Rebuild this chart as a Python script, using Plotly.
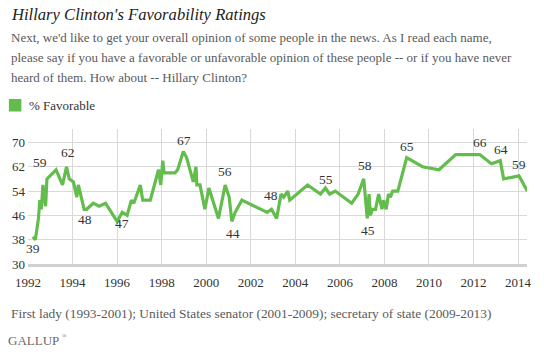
import plotly.graph_objects as go

# ---- data ----
dates = [1992.22, 1992.33, 1992.47, 1992.53, 1992.60, 1992.67, 1992.79, 1992.85,
         1993.26, 1993.55, 1993.73, 1993.85, 1994.04, 1994.19, 1994.26, 1994.52,
         1994.63, 1994.93, 1995.19, 1995.48, 1996.00, 1996.23, 1996.45, 1996.64,
         1996.75, 1997.04, 1997.15, 1997.49, 1997.86, 1997.96, 1998.05, 1998.11,
         1998.60, 1998.72, 1998.97, 1999.12, 1999.42, 1999.54, 1999.58, 1999.72,
         1999.94, 2000.12, 2000.55, 2000.85, 2001.03, 2001.15, 2001.30, 2001.60,
         2002.74, 2002.93, 2003.16, 2003.36, 2003.48, 2003.66, 2003.75, 2004.55,
         2005.13, 2005.35, 2005.54, 2005.79, 2006.53, 2006.82, 2007.07, 2007.23,
         2007.31, 2007.37, 2007.46, 2007.60, 2007.74, 2007.89, 2007.96, 2008.08,
         2008.18, 2008.27, 2008.37, 2008.60, 2009.00, 2009.71, 2010.45, 2011.20,
         2012.28, 2012.80, 2013.20, 2013.35, 2014.04, 2014.41]
favorable = [39, 38, 45, 51, 48, 56, 49, 58,
             61, 56, 62, 58, 57, 52, 56, 48,
             48, 50, 49, 50, 44, 47, 46, 51,
             50, 56, 51, 51, 61, 56, 64, 60,
             60, 61, 67, 65, 57, 62, 56, 56,
             48, 55, 45, 56, 52, 44, 47, 51,
             47, 48, 45, 53, 52, 54, 51, 56,
             53, 55, 53, 54, 50, 53, 58, 45,
             53, 46, 48, 48, 53, 48, 51, 48,
             53, 52, 54, 54, 65, 62, 61, 66,
             66, 63, 64, 58, 59, 54]
assert len(dates) == len(favorable)

label_index = [1, 7, 10, 15, 20, 34, 43, 45, 49, 57, 62, 63, 76, 80, 82, 84, 85]
label_text = ["39", "59", "62", "48", "47", "67", "56", "44", "48", "55",
              "58", "45", "65", "66", "64", "59", "54"]

x_ticks = list(range(1992, 2015, 2))
y_ticks = [30, 38, 46, 54, 62, 70]

title = "Hillary Clinton's Favorability Ratings"
subtitle_lines = [
    "Next, we'd like to get your overall opinion of some people in the news. As I read each name,",
    "please say if you have a favorable or unfavorable opinion of these people -- or if you have never",
    "heard of them. How about -- Hillary Clinton?",
]
series_name = "% Favorable"
footnote = "First lady (1993-2001); United States senator (2001-2009); secretary of state (2009-2013)"
brand = "GALLUP"

# ---- styling ----
GREEN = "#62BD4D"
FONT = "Liberation Serif, DejaVu Serif, serif"
W, H = 544, 359
L, R, T, B = 28, 12, 129, 95
PW, PH = W - L - R, H - T - B

def px_x(px):
    return (px - L) / PW

def px_y(py):
    return (H - B - py) / PH

fig = go.Figure()
fig.add_trace(go.Scatter(x=dates, y=favorable, mode="lines",
                         line=dict(color=GREEN, width=3.2),
                         name=series_name, showlegend=False, hoverinfo="x+y"))

# shifts for labels (pixels)
shifts = [(-2, -9), (-7, 16), (1, 14), (1, -10), (5, -2), (1, 11), (0, 13.5),
          (1, -12), (0, 13.5), (1, 9), (1, 13), (1, -12.5), (0, 11), (0, 12.5),
          (1, 11), (0, 11.5), (-1, -12.5)]
ann = []
for i, t, (dx, dy) in zip(label_index, label_text, shifts):
    ann.append(dict(x=dates[i], y=favorable[i], xref="x", yref="y", text=t,
                    showarrow=False, xshift=dx, yshift=dy,
                    font=dict(family=FONT, size=13.5, color="#333333"),
                    xanchor="center", yanchor="middle"))

ann.append(dict(x=px_x(9), y=px_y(14), xref="paper", yref="paper", text="<i>" + title + "</i>",
                showarrow=False, xanchor="left", yanchor="middle",
                font=dict(family=FONT, size=16.6, color="#222222")))
for k, line in enumerate(subtitle_lines):
    ann.append(dict(x=px_x(9), y=px_y(37.5 + 19.8 * k), xref="paper", yref="paper", text=line,
                    showarrow=False, xanchor="left", yanchor="middle",
                    font=dict(family=FONT, size=13, color="#5a5a5a")))
ann.append(dict(x=px_x(27), y=px_y(105), xref="paper", yref="paper", text=series_name,
                showarrow=False, xanchor="left", yanchor="middle",
                font=dict(family=FONT, size=13, color="#333333")))
ann.append(dict(x=px_x(9), y=px_y(313), xref="paper", yref="paper", text=footnote,
                showarrow=False, xanchor="left", yanchor="middle",
                font=dict(family=FONT, size=13.4, color="#5a5a5a")))
ann.append(dict(x=px_x(6), y=px_y(340), xref="paper", yref="paper", text=brand,
                showarrow=False, xanchor="left", yanchor="middle",
                font=dict(family=FONT, size=13, color="#6a6a6a")))
ann.append(dict(x=px_x(60), y=px_y(336), xref="paper", yref="paper", text="®",
                showarrow=False, xanchor="left", yanchor="middle",
                font=dict(family=FONT, size=6, color="#6a6a6a")))

shapes = [dict(type="rect", xref="paper", yref="paper",
               x0=px_x(8.7), x1=px_x(21.3), y0=px_y(111.5), y1=px_y(99),
               fillcolor=GREEN, line=dict(width=0))]

fig.update_layout(
    width=W, height=H,
    margin=dict(l=L, r=R, t=T, b=B),
    paper_bgcolor="white", plot_bgcolor="white",
    annotations=ann, shapes=shapes,
    showlegend=False,
    xaxis=dict(range=[1992, 1992 + PW / 22.5], tickvals=x_ticks,
               ticktext=[str(v) for v in x_ticks],
               showgrid=True, gridcolor="#d9d9d9", gridwidth=1,
               showline=True, linecolor="#d0d0d0", linewidth=3,
               zeroline=False, ticks="", ticklabelstandoff=4,
               tickfont=dict(family=FONT, size=13, color="#333333")),
    yaxis=dict(range=[30, 30 + PH / 3.04], tickvals=y_ticks,
               showgrid=True, gridcolor="#d9d9d9", gridwidth=1,
               zeroline=False, showline=False, ticks="", ticklabelstandoff=2,
               tickfont=dict(family=FONT, size=13, color="#333333")),
)

fig.write_html("out.html", config={"displayModeBar": False},
               post_script="document.body.style.margin='0px';")
